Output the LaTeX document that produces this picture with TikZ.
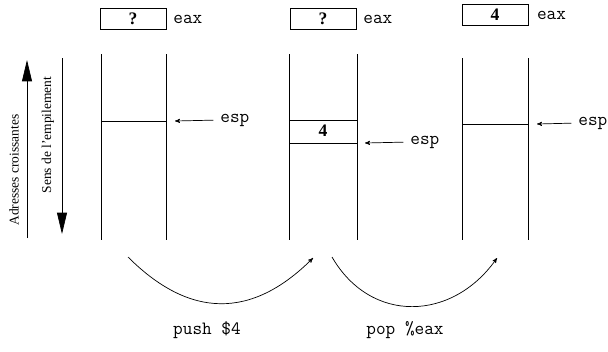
\documentclass[tikz,border=0pt]{standalone}
\usepackage{fontspec}
\setmainfont{Liberation Serif}
\usetikzlibrary{arrows, arrows.meta, positioning, calc}
\tikzset{
    regbox/.style = {draw=black, inner sep=0pt, minimum width=1.98cm,
        minimum height=0.64cm, font=\fontsize{15}{17}\selectfont\bfseries},
    regname/.style = {inner sep=0pt, font=\fontsize{16}{18}\selectfont\ttfamily},
    cell/.style = {inner sep=0pt, font=\fontsize{15}{17}\selectfont\bfseries},
    instr/.style = {inner sep=0pt, font=\fontsize{16}{18}\selectfont\ttfamily},
    axis/.style = {inner sep=0pt, rotate=90, font=\fontsize{11.5}{13}\selectfont},
    pointer/.style = {->, >=stealth', shorten <=0.2cm},
    bigarrow/.style = {-{Triangle[length=0.64cm, width=0.3cm]}},
}

\begin{document}
\begin{tikzpicture}[x=0.03cm, y=-0.03cm, line width=0.6pt]
        \useasboundingbox (0,0) rectangle (608,351);
        % direction arrows
        \coordinate (up0) at (27,238);
        \coordinate (up1) at (27,60);
        \coordinate (down0) at (62,58);
        \coordinate (down1) at (62,234);
        \draw [bigarrow] (up0) -- (up1);
        \draw [bigarrow] (down0) -- (down1);
        \node [axis] (addr) at (14,170) {Adresses croissantes};
        \node [axis] (sens) at (48,135) {Sens de l'empilement};
        % stacks
        \draw (101,54) -- (101,240) (166,54) -- (166,240);
        \draw (101,121) -- (166,121);
        \draw (289,54) -- (289,240) (357,54) -- (357,240);
        \draw (289,120) -- (357,120) (289,143) -- (357,143);
        \node [cell] (top2) at (323,131) {4};
        \draw (462,58) -- (462,240) (528,58) -- (528,240);
        \draw (462,124) -- (528,124);
        % eax register
        \node [regbox] (eax1) at (133,19) {?};
        \node [regname, right=0.2cm of eax1] {eax};
        \node [regbox] (eax2) at (323,19) {?};
        \node [regname, right=0.2cm of eax2] {eax};
        \node [regbox] (eax3) at (495,15) {4};
        \node [regname, right=0.25cm of eax3] {eax};
        % stack pointer
        \coordinate (sp1) at (175,121);
        \node [regname, anchor=west] (esp1) at (220,120) {esp};
        \draw [pointer] (esp1.west) -- (sp1);
        \coordinate (sp2) at (365,143);
        \node [regname, anchor=west] (esp2) at (410,142) {esp};
        \draw [pointer] (esp2.west) -- (sp2);
        \coordinate (sp3) at (537,124);
        \node [regname, anchor=west] (esp3) at (578,123) {esp};
        \draw [pointer] (esp3.west) -- (sp3);
        % instructions
        \coordinate (push0) at (128,257);
        \coordinate (push1) at (313,258);
        \draw [->, >=stealth'] (push0) to[out=-45, in=-135, looseness=1.2] (push1);
        \node [instr] (push) at (207,330) {push \$4};
        \coordinate (pop0) at (332,257);
        \coordinate (pop1) at (497,258);
        \draw [->, >=stealth'] (pop0) to[out=-60, in=-125, looseness=1.2] (pop1);
        \node [instr] (pop) at (405,330) {pop \%eax};
\end{tikzpicture}
\end{document}
